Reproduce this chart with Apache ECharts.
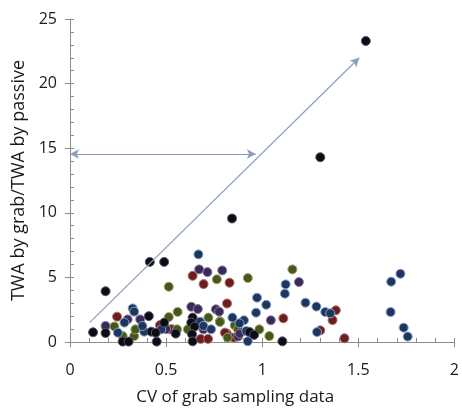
<!DOCTYPE html>
<html>
<head>
<meta charset="utf-8">
<script src="https://cdn.jsdelivr.net/npm/echarts@6/dist/echarts.min.js"></script>
<style>
html,body{margin:0;padding:0;background:#fff;}
#c{width:462px;height:411px;}
</style>
</head>
<body>
<div id="c"></div>
<script>
// Axis labels
var xAxisName = 'CV of grab sampling data';
var yAxisName = 'TWA by grab/TWA by passive';

// Data points [CV, ratio], grouped by marker colour
var blackPts = [[0.12,0.75],[0.185,3.93],[0.415,6.2],[0.49,6.2],[0.185,0.7],[0.274,0.03],[0.305,0.03],[0.41,2.0],[0.423,0.8],[0.451,0.03],[0.446,0.72],[0.49,1.5],[0.55,0.65],[0.638,1.89],[0.631,1.5],[0.648,1.19],[0.635,0.6],[0.638,0.05],[0.934,0.77],[0.958,0.55],[1.105,0.05],[0.843,9.56],[1.302,14.3],[1.539,23.3]];
var bluePts = [[0.249,0.72],[0.283,1.5],[0.326,2.6],[0.334,2.35],[0.386,0.8],[0.377,1.24],[0.475,0.98],[0.668,6.78],[0.677,1.57],[0.694,1.24],[0.734,0.98],[0.845,1.89],[0.905,1.68],[0.882,1.45],[0.917,0.85],[0.925,0.05],[0.973,3.43],[1.021,2.88],[0.968,2.27],[1.122,4.46],[1.118,3.74],[1.225,3.04],[1.282,2.74],[1.328,2.32],[1.354,2.22],[1.285,0.77],[1.719,5.28],[1.671,4.67],[1.668,2.32],[1.736,1.11],[1.757,0.42]];
var purplePts = [[0.185,1.24],[0.30,1.75],[0.365,1.75],[0.5,1.0],[0.631,2.73],[0.665,2.55],[0.672,5.62],[0.715,5.41],[0.792,5.54],[0.759,2.53],[0.776,2.35],[0.694,0.98],[0.874,0.42],[1.045,1.68],[1.191,4.64],[0.883,0.65]];
var redPts = [[0.245,1.96],[0.468,1.31],[0.523,0.98],[0.531,0.98],[0.638,5.12],[0.695,4.48],[0.83,4.59],[0.817,2.98],[0.78,1.6],[0.68,0.24],[0.718,0.24],[0.816,0.65],[0.806,0.72],[0.853,0.34],[1.11,1.83],[1.383,2.45],[1.366,1.7],[1.302,0.9],[1.428,0.29]];
var olivePts = [[0.231,1.2],[0.274,0.46],[0.334,0.46],[0.34,0.98],[0.514,4.28],[0.514,1.93],[0.56,2.33],[0.557,0.98],[0.613,0.98],[0.72,1.89],[0.78,1.55],[0.764,4.85],[0.925,4.95],[0.857,1.29],[0.874,0.98],[0.985,0.98],[0.82,0.34],[1.157,5.62],[1.037,0.46]];

// Annotation arrows
var diagArrow = [[0.103,1.52],[1.505,22.0]];
var horizArrow = [[0,14.55],[0.967,14.55]];

var colors = {black:'#0b0c16', blue:'#1d3660', purple:'#3a2a55', red:'#6e1d1f', olive:'#475719'};
var borders = {black:'#5a5a66', blue:'#8aa3c8', purple:'#8e80a8', red:'#b07070', olive:'#9aa870'};

function sc(name, pts, key){
  return {type:'scatter', name:name, data:pts, symbolSize:9, xAxisIndex:0, yAxisIndex:0,
    itemStyle:{color:colors[key], borderColor:borders[key], borderWidth:1, opacity:1}, z:3};
}

var axisGrey = '#8c8c8c';
var textCol = '#1a1a1a';
var chart = echarts.init(document.getElementById('c'), null, {renderer:'canvas'});
chart.setOption({
  animation:false,
  backgroundColor:'#ffffff',
  grid:{left:70, right:3, top:19, bottom:68, containLabel:false},
  xAxis:[{
    type:'value', min:0, max:2, interval:0.5,
    name:xAxisName, nameLocation:'middle', nameGap:47,
    nameTextStyle:{fontFamily:'Open Sans', fontSize:17, color:textCol, padding:[0,54,0,0]},
    axisLine:{lineStyle:{color:axisGrey, width:1}},
    axisTick:{show:true, inside:false, length:5, lineStyle:{color:axisGrey}},
    minorTick:{show:false},
    axisLabel:{fontFamily:'Open Sans', fontSize:16, color:textCol, margin:20,
      formatter:function(v){return String(v);}},
    splitLine:{show:false}
  },{
    type:'value', min:0, max:2, interval:0.5, position:'bottom',
    axisLine:{show:false},
    axisTick:{show:true, inside:true, length:4, lineStyle:{color:axisGrey}},
    minorTick:{show:true, splitNumber:5, length:4, lineStyle:{color:axisGrey}},
    axisLabel:{show:false}, splitLine:{show:false}
  }],
  yAxis:[{
    type:'value', min:0, max:25, interval:5,
    name:yAxisName, nameLocation:'middle', nameGap:42, nameRotate:90,
    nameTextStyle:{fontFamily:'Open Sans', fontSize:18, color:textCol},
    axisLine:{lineStyle:{color:axisGrey, width:1}},
    axisTick:{show:true, inside:false, length:5, lineStyle:{color:axisGrey}},
    axisLabel:{fontFamily:'Open Sans', fontSize:16, color:textCol, margin:13},
    splitLine:{show:false}
  },{
    type:'value', min:0, max:25, interval:5, position:'left',
    axisLine:{show:false},
    axisTick:{show:true, inside:true, length:4, lineStyle:{color:axisGrey}},
    minorTick:{show:true, splitNumber:5, length:4, lineStyle:{color:axisGrey}},
    axisLabel:{show:false}, splitLine:{show:false}
  }],
  series:[
    sc('red', redPts, 'red'),
    sc('olive', olivePts, 'olive'),
    sc('purple', purplePts, 'purple'),
    sc('blue', bluePts, 'blue'),
    sc('black', blackPts, 'black'),
    {type:'scatter', data:[], xAxisIndex:0, yAxisIndex:0,
      markLine:{silent:true, symbol:['none','arrow'], symbolSize:[7,9], animation:false,
        label:{show:false}, lineStyle:{color:'#8c9dbb', width:1.2, type:'solid'},
        data:[[{coord:diagArrow[0]},{coord:diagArrow[1]}]]}},
    {type:'scatter', data:[], xAxisIndex:0, yAxisIndex:0,
      markLine:{silent:true, symbol:['arrow','arrow'], symbolSize:[7,9], animation:false,
        label:{show:false}, lineStyle:{color:'#8c9dbb', width:1.2, type:'solid'},
        data:[[{coord:horizArrow[0]},{coord:horizArrow[1]}]]}}
  ]
});
</script>
</body>
</html>
